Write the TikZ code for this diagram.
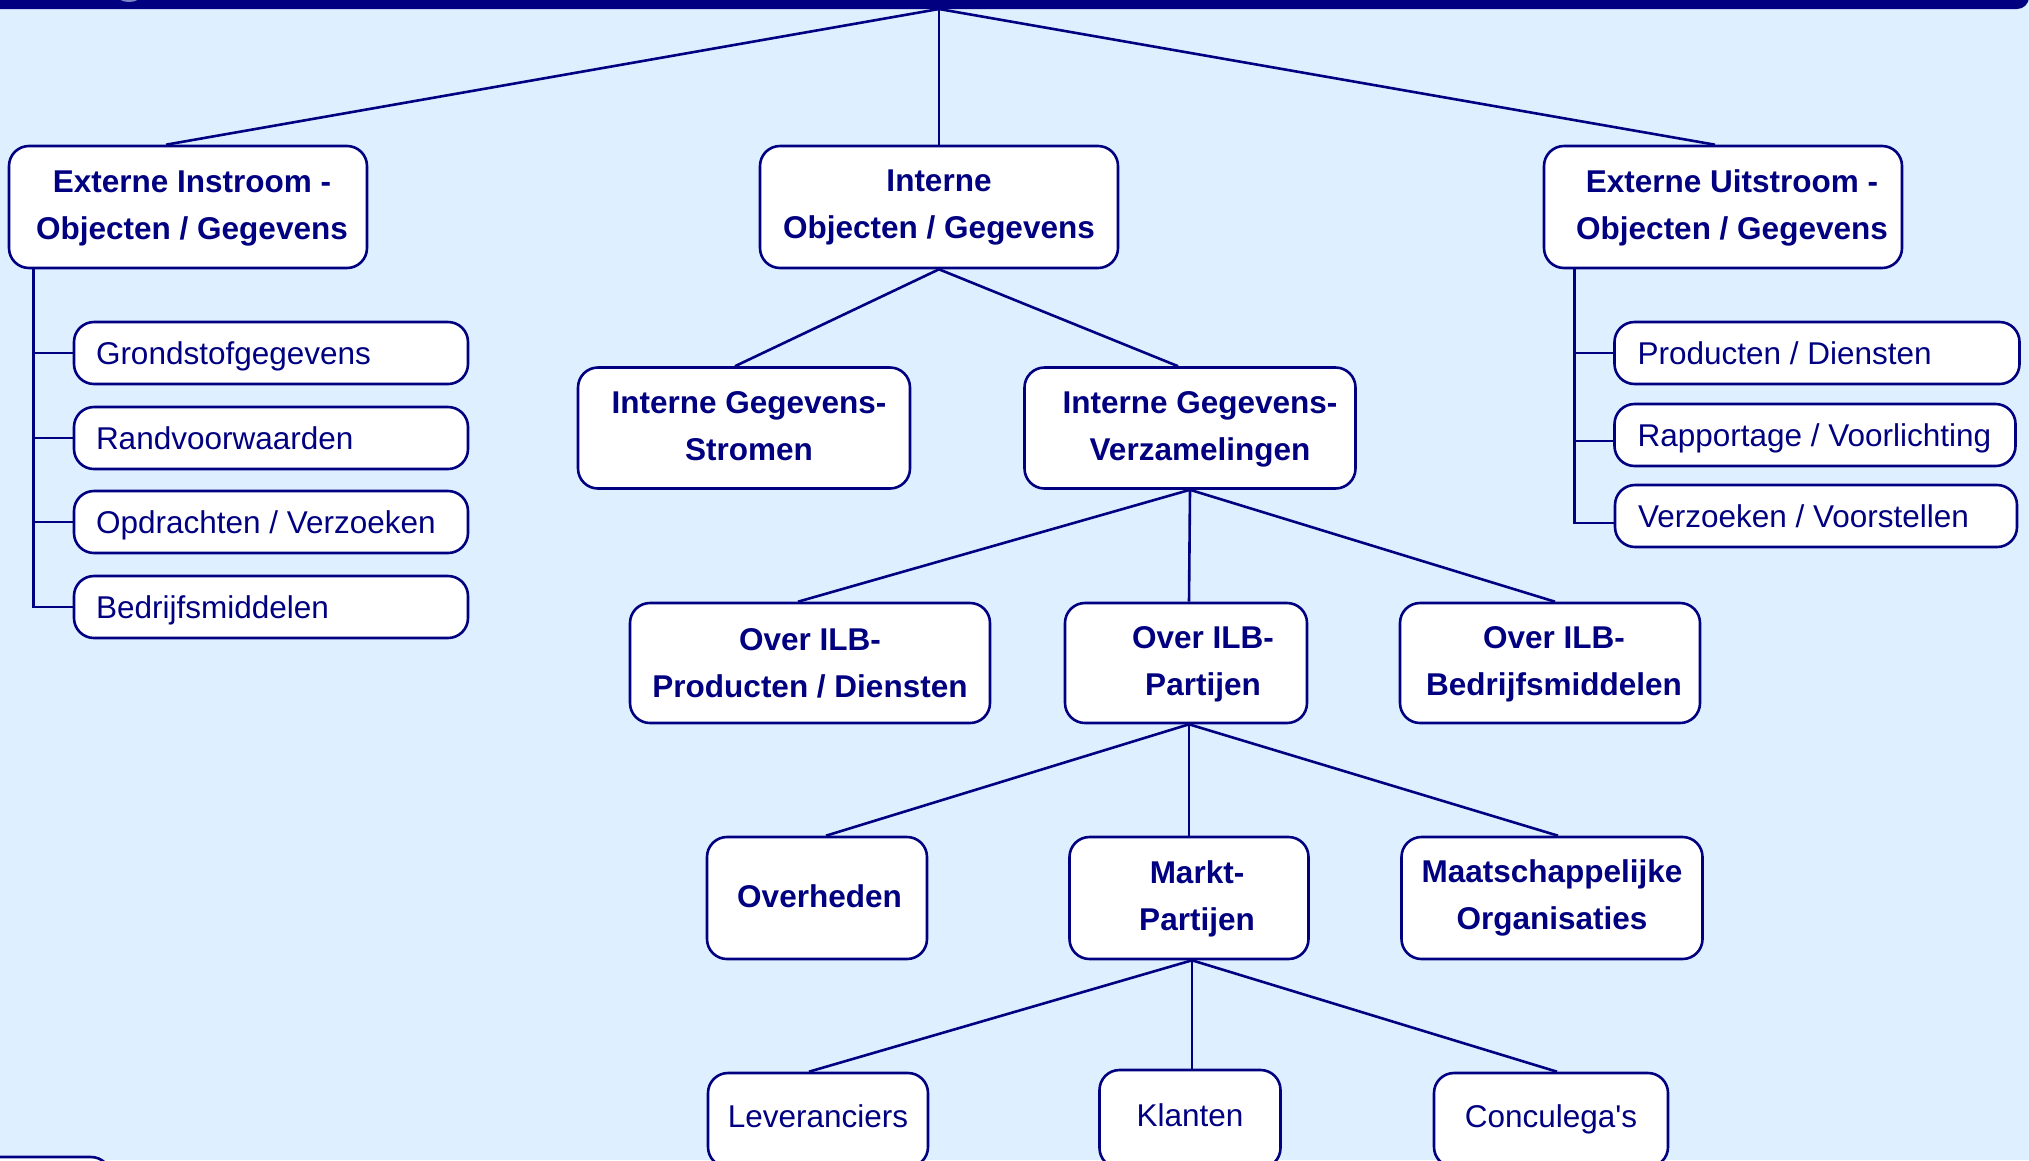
\documentclass[tikz,border=0pt]{standalone}
\usepackage{fontspec}
\setmainfont{Liberation Sans}
\definecolor{navy}{RGB}{0,0,128}
\definecolor{sky}{RGB}{222,240,255}
% centred lines, moved right by half the given space
\newcommand\offtext[2]{\begin{tabular}{@{\hspace{#1}}c@{}}#2\end{tabular}}
\begin{document}
\begin{tikzpicture}[x=1pt,y=-1pt,
  box/.style={draw=navy, fill=white, line width=2.6pt, rounded corners=20pt,
    inner sep=0pt, text=navy, font=\fontsize{31.5}{47}\selectfont},
  head/.style={box, font=\fontsize{31.5}{47}\selectfont\bfseries, align=flush center},
  item/.style={box, inner xsep=22pt, inner ysep=0pt, minimum height=62pt,
    text height=29pt, text depth=7pt, align=flush left},
  leaf/.style={box, text height=29pt, text depth=15pt},
  link/.style={draw=navy, line width=2.6pt}]

\useasboundingbox (0,0) rectangle (2029,1160);
\clip (0,0) rectangle (2029,1160);
\fill[sky] (0,0) rectangle (2029,1160);

% title band along the top edge
\fill[navy, rounded corners=12pt] (-30,-30) rectangle (2029,9);
\fill[navy!45!sky] (129,-6) ellipse [x radius=13, y radius=8];
\coordinate (root) at (939,9);

% first level
\node[head, minimum width=358pt, minimum height=122pt] (EI) at (188,207)
  {\offtext{8pt}{Externe Instroom -\\Objecten / Gegevens}};
\node[head, minimum width=358pt, minimum height=122pt] (IO) at (939,207)
  {Interne\\Objecten / Gegevens};
\node[head, minimum width=358pt, minimum height=122pt] (EU) at (1723,207)
  {\offtext{18pt}{Externe Uitstroom -\\Objecten / Gegevens}};

% incoming objects
\node[item, text width=350pt] (g1) at (271,353) {Grondstofgegevens};
\node[item, text width=350pt] (g2) at (271,438) {Randvoorwaarden};
\node[item, text width=350pt] (g3) at (271,522) {Opdrachten / Verzoeken};
\node[item, text width=350pt] (g4) at (271,607) {Bedrijfsmiddelen};

% outgoing objects
\node[item, inner xsep=23pt, text width=359pt] (u1) at (1817,353) {Producten / Diensten};
\node[item, inner xsep=23pt, text width=355pt] (u2) at (1815,435) {\mbox{Rapportage / Voorlichting}};
\node[item, inner xsep=23pt, text width=356pt] (u3) at (1816,516) {Verzoeken / Voorstellen};

% internal data
\node[head, minimum width=332pt, minimum height=121pt] (IS) at (744,428)
  {\offtext{10pt}{Interne Gegevens-\\Stromen}};
\node[head, minimum width=331pt, minimum height=121pt] (IV) at (1190,428)
  {\offtext{20pt}{Interne Gegevens-\\Verzamelingen}};

\node[head, minimum width=360pt, minimum height=120pt] (OP) at (810,663)
  {Over ILB-\\Producten / Diensten};
\node[head, minimum width=242pt, minimum height=120pt] (OPa) at (1186,663)
  {\offtext{34pt}{Over ILB-\\Partijen}};
\node[head, minimum width=300pt, minimum height=120pt] (OB) at (1550,663)
  {\offtext{8pt}{Over ILB-\\Bedrijfsmiddelen}};

\node[head, minimum width=220pt, minimum height=122pt] (OH) at (817,898)
  {\offtext{5pt}{Overheden}};
\node[head, minimum width=239pt, minimum height=122pt] (MP) at (1189,898)
  {\offtext{16pt}{Markt-\\Partijen}};
\node[head, minimum width=301pt, minimum height=122pt] (MO) at (1552,898)
  {Maatschappelijke\\Organisaties};

\node[leaf, minimum width=220pt, minimum height=94pt] (LV) at (818,1120) {Leveranciers};
\node[leaf, minimum width=181pt, minimum height=98pt] (KL) at (1190,1119) {Klanten};
\node[leaf, minimum width=234pt, minimum height=94pt] (CC) at (1551,1120) {Conculega\textquotesingle s};

% box reaching in at the lower left corner
\node[box, minimum width=150pt, minimum height=100pt] (corner) at (36,1207) {};

% tree connectors
\draw[link] (root) -- ([xshift=-22pt]EI.north);
\draw[link] (root) -- (IO.north);
\draw[link] (root) -- ([xshift=-8pt]EU.north);

\coordinate (spL) at ([xshift=26pt]EI.south west);
\draw[link] (spL) |- (g1.west);
\draw[link] (spL) |- (g2.west);
\draw[link] (spL) |- (g3.west);
\draw[link] (spL) |- (g4.west);

\coordinate (spR) at ([xshift=32pt]EU.south west);
\draw[link] (spR) |- (u1.west);
\draw[link] (spR) |- ([yshift=-6pt]u2.west);
\draw[link] (spR) |- ([yshift=-7pt]u3.west);

\draw[link] (IO.south) -- ([xshift=-9pt]IS.north);
\draw[link] (IO.south) -- ([xshift=-12pt]IV.north);

\draw[link] (IV.south) -- ([xshift=-12pt]OP.north);
\draw[link] (IV.south) -- ([xshift=3pt]OPa.north);
\draw[link] (IV.south) -- ([xshift=5pt]OB.north);

\draw[link] ([xshift=3pt]OPa.south) -- ([xshift=9pt]OH.north);
\draw[link] ([xshift=3pt]OPa.south) -- (MP.north);
\draw[link] ([xshift=3pt]OPa.south) -- ([xshift=6pt]MO.north);

\draw[link] ([xshift=3pt]MP.south) -- ([xshift=-9pt]LV.north);
\draw[link] ([xshift=3pt]MP.south) -- ([xshift=2pt]KL.north);
\draw[link] ([xshift=3pt]MP.south) -- ([xshift=6pt]CC.north);
\end{tikzpicture}
\end{document}
